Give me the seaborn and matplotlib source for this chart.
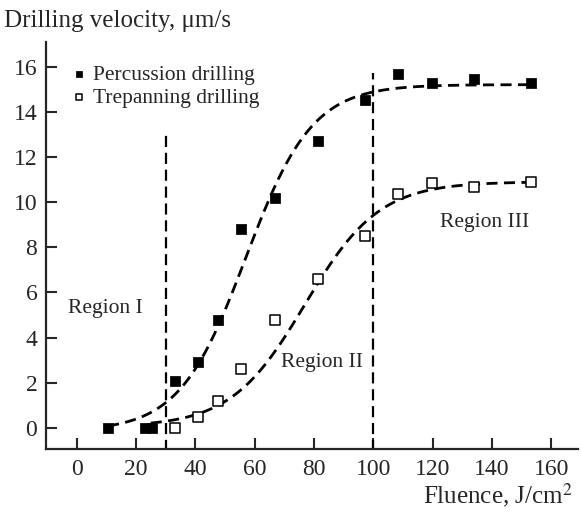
import numpy as np
import pandas as pd
import seaborn as sns
import matplotlib.pyplot as plt

perc_fluence = [10.6, 23, 25.5, 33.1, 40.9, 47.7, 55.3, 66.8, 81.4, 97.1, 108.3, 119.9, 134.1, 153]
perc_velocity = [0, 0, 0, 2.1, 2.9, 4.8, 8.8, 10.2, 12.7, 14.5, 15.65, 15.25, 15.45, 15.25]
trep_fluence = [33.1, 40.9, 47.7, 55.5, 66.8, 81.4, 97.1, 108.3, 119.9, 134.1, 153]
trep_velocity = [0, 0.5, 1.2, 2.6, 4.8, 6.6, 8.5, 10.35, 10.85, 10.65, 10.9]

# sigmoid fit parameters (bottom, top, centre, width) and drawn range
perc_fit = (-0.15, 15.2, 57, 11.2)
trep_fit = (0.05, 10.9, 77, 12.5)
perc_range = (10.6, 153)
trep_range = (25, 153)

region_bounds = [30, 100]
region_tops = [13.05, 15.7]

sns.set_theme(style="ticks")
plt.rcParams["font.family"] = ["Liberation Serif", "DejaVu Serif"]
plt.rcParams["mathtext.fontset"] = "stix"

pts = pd.concat([
    pd.DataFrame({"x": perc_fluence, "y": perc_velocity, "kind": "Percussion drilling"}),
    pd.DataFrame({"x": trep_fluence, "y": trep_velocity, "kind": "Trepanning drilling"}),
])


def boltzmann(x, p):
    a1, a2, x0, dx = p
    return a2 + (a1 - a2) / (1 + np.exp((x - x0) / dx))


xp = np.linspace(*perc_range, 200)
xt = np.linspace(*trep_range, 200)
curves = pd.concat([
    pd.DataFrame({"x": xp, "y": boltzmann(xp, perc_fit), "kind": "p"}),
    pd.DataFrame({"x": xt, "y": boltzmann(xt, trep_fit), "kind": "t"}),
])

fig, ax = plt.subplots(figsize=(5.81, 5.14), dpi=100)

sns.lineplot(data=curves, x="x", y="y", units="kind", estimator=None,
             color="black", lw=2.0, ax=ax, legend=False)
for ln in ax.get_lines():
    ln.set_dashes([4, 2.3])

for xb, top in zip(region_bounds, region_tops):
    ax.plot([xb, xb], [-1, top], color="black", lw=1.6, dashes=[5, 2.6])

sns.scatterplot(data=pts[pts.kind == "Percussion drilling"], x="x", y="y",
                marker="s", s=45, color="black", edgecolor="black", ax=ax,
                label="Percussion drilling", zorder=5)
sns.scatterplot(data=pts[pts.kind == "Trepanning drilling"], x="x", y="y",
                marker="s", s=45, facecolor="white", edgecolor="black",
                linewidth=1.1, ax=ax, label="Trepanning drilling", zorder=5)

ax.legend(loc="upper left", bbox_to_anchor=(62 / 581, 1 - 56 / 514),
          bbox_transform=fig.transFigure, frameon=False,
          fontsize=15.5, handletextpad=0.25, handlelength=0.8,
          labelspacing=0.15, markerscale=0.75, borderaxespad=0)

ax.text(9.8, 5.3, "Region I", fontsize=15.5, ha="center", va="center")
ax.text(82.6, 2.9, "Region II", fontsize=15.5, ha="center", va="center")
ax.text(137.5, 9.1, "Region III", fontsize=15.5, ha="center", va="center")

ax.set_xlim(-10.4, 169)
ax.set_ylim(-0.93, 17.1)
ax.set_xticks(range(0, 161, 20))
ax.set_yticks(range(0, 17, 2))
ax.tick_params(direction="in", length=8, width=1.5, labelsize=17)
ax.tick_params(axis="y", pad=6)
ax.tick_params(axis="x", pad=7)
for s in ["top", "right"]:
    ax.spines[s].set_visible(False)
for s in ["left", "bottom"]:
    ax.spines[s].set_linewidth(1.6)
ax.set_xlabel("")
ax.set_ylabel("")

fig.text(4 / 581, 1 - 27 / 514, "Drilling velocity, μm/s", fontsize=18,
         ha="left", va="baseline")
fig.text(573 / 581, 1 - 503 / 514, "Fluence, J/cm$^2$", fontsize=18,
         ha="right", va="baseline")

fig.subplots_adjust(left=45.7 / 581, right=578 / 581, top=1 - 41.7 / 514,
                    bottom=1 - 449 / 514)
fig.savefig("out.png", dpi=100)
